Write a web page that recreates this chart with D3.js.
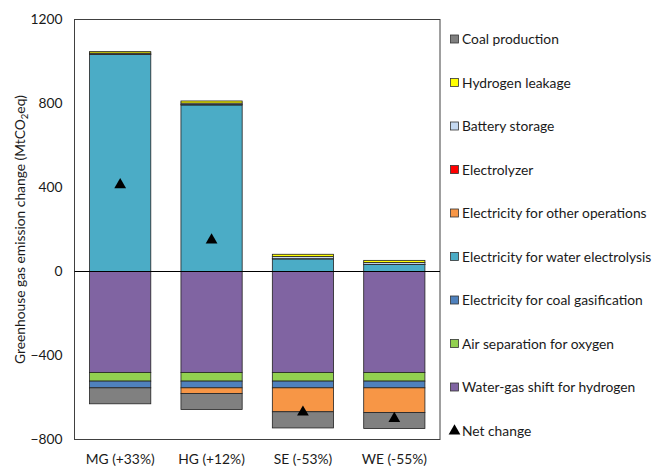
<!DOCTYPE html>
<html><head><meta charset="utf-8">
<script src="https://cdn.jsdelivr.net/npm/d3@7"></script>
<style>body{margin:0;background:#fff}svg{display:block}text{font-family:Lato,"Open Sans",sans-serif;fill:#1a1a1a}</style>
</head><body><svg id="c" width="653" height="467"></svg>
<script>
const categories = ["MG (+33%)","HG (+12%)","SE (-53%)","WE (-55%)"];
const waterGasShift = [-481,-481,-481,-481];
const airSeparation = [-41,-41,-41,-41];
const elecCoalGasification = [-32,-32,-32,-32];
const elecWaterElectrolysis = [1033,793,60,33];
const elecOtherOps = [0,-27,-114,-117];
const electrolyzer = [2,2,1,1];
const batteryStorage = [5,7,10,9];
const hydrogenLeakage = [7,10,11,10];
const coalProduction = [-76,-76,-77,-77];
const netChange = [413,150,-670,-700];
const yTicks = [-800,-400,0,400,800,1200];

const seriesNames = ["Water-gas shift for hydrogen","Air separation for oxygen","Electricity for coal gasification","Electricity for water electrolysis","Electricity for other operations","Electrolyzer","Battery storage","Hydrogen leakage","Coal production"];
const seriesValues = [waterGasShift,airSeparation,elecCoalGasification,elecWaterElectrolysis,elecOtherOps,electrolyzer,batteryStorage,hydrogenLeakage,coalProduction];
const colors = ["#8064A2","#92D050","#4F81BD","#4BACC6","#F79646","#FF0000","#C5D9F1","#FFFF00","#808080"];

const FS = "13.8px";
const svg = d3.select("#c");
const L=74.5,R=440,T=19.5,B=439.5;
const x = d3.scaleBand().domain(categories).range([L,R]).paddingInner(0.33).paddingOuter(0.165);
const y = d3.scaleLinear().domain([-800,1200]).range([B,T]);

const rows = categories.map((c,i)=>{const o={cat:c};seriesNames.forEach((s,j)=>o[s]=seriesValues[j][i]);return o;});
const stack = d3.stack().keys(seriesNames).offset(d3.stackOffsetDiverging)(rows);

svg.append("rect").attr("x",L).attr("y",T).attr("width",R-L).attr("height",B-T).attr("fill","none").attr("stroke","#404040").attr("stroke-width",1);

stack.forEach((layer,j)=>{
  svg.append("g").selectAll("rect").data(layer.filter(d=>d[1]!==d[0])).join("rect")
    .attr("x",d=>x(d.data.cat)).attr("width",x.bandwidth())
    .attr("y",d=>y(Math.max(d[0],d[1]))).attr("height",d=>Math.abs(y(d[0])-y(d[1])))
    .attr("fill",colors[j]).attr("stroke","#222").attr("stroke-width",0.8);
});

svg.append("line").attr("x1",L).attr("x2",R).attr("y1",y(0)).attr("y2",y(0)).attr("stroke","#000").attr("stroke-width",1);

const tri = d3.symbol().type(d3.symbolTriangle).size(60);
svg.append("g").selectAll("path").data(netChange).join("path")
  .attr("d",tri).attr("transform",(d,i)=>`translate(${x(categories[i])+x.bandwidth()/2},${y(d)})`).attr("fill","#000");

// axes
const ya = svg.append("g").attr("transform",`translate(${L},0)`).call(d3.axisLeft(y).tickValues(yTicks).tickFormat(d3.format("d")).tickSize(0).tickPadding(12));
ya.select(".domain").remove();
ya.selectAll("text").style("font-size",FS).style("font-family","Lato,sans-serif").attr("fill","#1a1a1a");
const xa = svg.append("g").attr("transform",`translate(0,${B})`).call(d3.axisBottom(x).tickSize(0).tickPadding(15));
xa.select(".domain").remove();
xa.selectAll("text").style("font-size",FS).style("font-family","Lato,sans-serif").attr("fill","#1a1a1a");

const yl = svg.append("text").attr("transform",`translate(25,${(T+B)/2}) rotate(-90)`).attr("text-anchor","middle").style("font-size",FS);
yl.append("tspan").text("Greenhouse gas emission change (MtCO");
yl.append("tspan").text("2").style("font-size","9.5px").attr("dy",3);
yl.append("tspan").text("eq)").attr("dy",-3);

// legend (top to bottom)
const legendItems = seriesNames.map((s,j)=>({name:s,color:colors[j]})).reverse();
const lg = svg.append("g");
legendItems.forEach((d,i)=>{
  const cy = 39.5 + i*43.5;
  lg.append("rect").attr("x",450.5).attr("y",cy-4.5).attr("width",8).attr("height",8).attr("fill",d.color).attr("stroke","#333").attr("stroke-width",0.8);
  lg.append("text").attr("x",462).attr("y",cy).attr("dy","0.35em").style("font-size",FS).text(d.name);
});
const ny = 39.5 + 9*43.5;
lg.append("path").attr("d",tri).attr("transform",`translate(454.5,${ny})`).attr("fill","#000");
lg.append("text").attr("x",462).attr("y",ny).attr("dy","0.35em").style("font-size",FS).text("Net change");
</script></body></html>
